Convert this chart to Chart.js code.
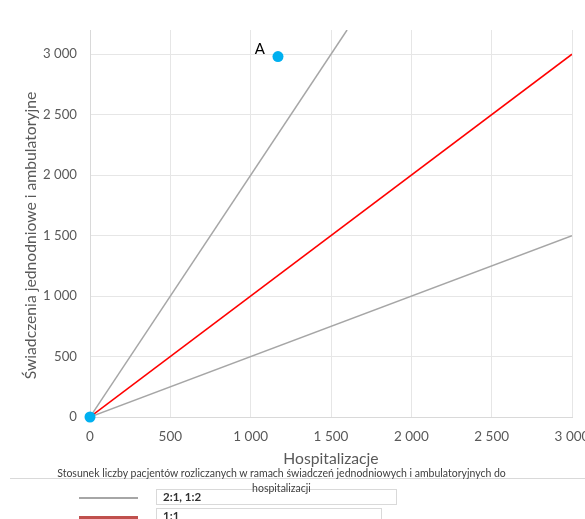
<!DOCTYPE html>
<html>
<head>
<meta charset="utf-8">
<script src="https://cdn.jsdelivr.net/npm/chart.js@4.4.1/dist/chart.umd.min.js"></script>
<style>
  html, body { margin: 0; padding: 0; background: #fff; }
  #wrap { position: relative; width: 585px; height: 519px; overflow: hidden; font-family: Lato, sans-serif; }
  #c { position: absolute; left: 0; top: 0; }
  .abs { position: absolute; }
  #hr { left: 10px; top: 478px; width: 575px; height: 1px; background: #d9d9d9; }
  #ltitle { left: 29px; width: 505px; top: 466px; font-size: 10.5px; line-height: 15px; color: #404040; text-align: center; }
  .lline { left: 79px; width: 59px; }
  .lbox { left: 156px; height: 16px; border: 1px solid #d9d9d9; box-sizing: border-box; font-size: 11.5px; font-weight: 700; color: #303030; padding-left: 6px; line-height: 14px; }
</style>
</head>
<body>
<div id="wrap">
  <canvas id="c" width="620" height="519"></canvas>
  <div id="hr" class="abs"></div>
  <div id="l1line" class="abs lline" style="top:497px;height:2px;background:#a6a6a6;"></div>
  <div id="l1box" class="abs lbox" style="top:489px;width:241px;"></div>
  <div id="l2line" class="abs lline" style="top:516px;height:3px;background:#c0504d;"></div>
  <div id="l2box" class="abs lbox" style="top:508px;width:226px;"></div>
  <div id="ltitle" class="abs"></div>
</div>
<script>
// ---- data ----
const hospX = [0, 1170];            // Hospitalizacje
const ambY = [0, 2980];             // Świadczenia jednodniowe i ambulatoryjne
const pointLabels = ['', 'A'];
const ratio21End = [1600, 3200];    // 2:1 line end point
const ratio12End = [3000, 1500];    // 1:2 line end point
const ratio11End = [3000, 3000];    // 1:1 line end point
const yTickValues = [0, 500, 1000, 1500, 2000, 2500, 3000];
const legendLabels = ['2:1, 1:2', '1:1'];
const legendTitle = 'Stosunek liczby pacjentów rozliczanych w ramach świadczeń jednodniowych i ambulatoryjnych do hospitalizacji';
const xTitle = 'Hospitalizacje';
const yTitle = 'Świadczenia jednodniowe i ambulatoryjne';

document.getElementById('ltitle').textContent = legendTitle;
document.getElementById('l1box').textContent = legendLabels[0];
document.getElementById('l2box').textContent = legendLabels[1];

const FONT = 'Lato, sans-serif';
const tickColor = '#595959';
const gridColor = '#e6e6e6';
const fmt = v => String(v).replace(/(\d)(?=(\d{3})+$)/g, '$1 ');

const labelPlugin = {
  id: 'pointLabels',
  afterDatasetsDraw(chart) {
    const meta = chart.getDatasetMeta(0);
    const ctx = chart.ctx;
    ctx.save();
    ctx.font = '15px ' + FONT;
    ctx.fillStyle = '#000';
    ctx.textAlign = 'right';
    ctx.textBaseline = 'middle';
    meta.data.forEach((el, i) => {
      if (pointLabels[i]) ctx.fillText(pointLabels[i], el.x - 13, el.y - 7);
    });
    ctx.restore();
  }
};

const yTitlePlugin = {
  id: 'yTitle',
  afterDraw(chart) {
    const ctx = chart.ctx;
    const ca = chart.chartArea;
    ctx.save();
    ctx.font = '15.7px ' + FONT;
    ctx.fillStyle = tickColor;
    ctx.textAlign = 'center';
    ctx.textBaseline = 'middle';
    ctx.translate(31, (ca.top + ca.bottom) / 2 + 12);
    ctx.rotate(-Math.PI / 2);
    ctx.fillText(yTitle, 0, 0);
    ctx.restore();
  }
};

new Chart(document.getElementById('c'), {
  type: 'scatter',
  data: {
    datasets: [
      {
        label: 'Punkty',
        data: hospX.map((x, i) => ({ x: x, y: ambY[i] })),
        backgroundColor: '#00b0f0',
        borderColor: '#00b0f0',
        pointRadius: 5.5,
        pointBorderWidth: 0,
        showLine: false,
        clip: false
      },
      {
        label: '2:1',
        data: [{ x: 0, y: 0 }, { x: ratio21End[0], y: ratio21End[1] }],
        showLine: true, borderColor: '#a6a6a6', borderWidth: 1.5, pointRadius: 0
      },
      {
        label: '1:2',
        data: [{ x: 0, y: 0 }, { x: ratio12End[0], y: ratio12End[1] }],
        showLine: true, borderColor: '#a6a6a6', borderWidth: 1.5, pointRadius: 0
      },
      {
        label: '1:1',
        data: [{ x: 0, y: 0 }, { x: ratio11End[0], y: ratio11End[1] }],
        showLine: true, borderColor: '#ff0000', borderWidth: 1.5, pointRadius: 0
      }
    ]
  },
  options: {
    responsive: false,
    animation: false,
    devicePixelRatio: 1,
    layout: { padding: { top: 30, right: 48, bottom: 0, left: 0 } },
    plugins: { legend: { display: false }, tooltip: { enabled: false } },
    scales: {
      x: {
        type: 'linear', min: 0, max: 3000,
        ticks: {
          stepSize: 500, color: tickColor, font: { family: FONT, size: 13.5 }, padding: 12,
          maxRotation: 0, autoSkip: false,
          callback: v => fmt(v)
        },
        grid: { color: gridColor, drawTicks: false },
        border: { color: '#d9d9d9' },
        title: { display: true, text: xTitle, color: tickColor, font: { family: FONT, size: 15.7 }, padding: { top: 0, bottom: 51 } },
        afterFit: s => { s.height = 102; }
      },
      y: {
        type: 'linear', min: 0, max: 3200,
        afterBuildTicks: s => { s.ticks = yTickValues.map(v => ({ value: v })); },
        ticks: {
          color: tickColor, font: { family: FONT, size: 13.2 }, padding: 13, autoSkip: false,
          callback: v => fmt(v)
        },
        grid: { color: gridColor, drawTicks: false },
        border: { color: '#d9d9d9' },
        title: { display: false, text: yTitle },
        afterFit: s => { s.width = 90; }
      }
    }
  },
  plugins: [labelPlugin, yTitlePlugin]
});
</script>
</body>
</html>
